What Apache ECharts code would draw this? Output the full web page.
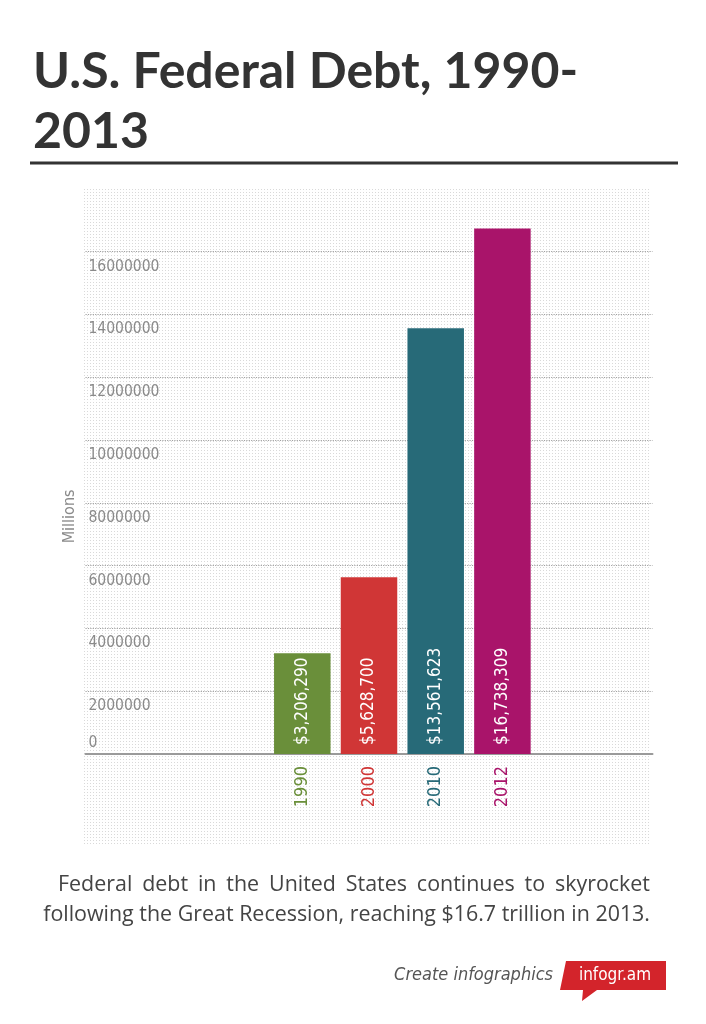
<!DOCTYPE html>
<html><head><meta charset="utf-8">
<script src="https://cdn.jsdelivr.net/npm/echarts@6/dist/echarts.min.js"></script>
<style>html,body{margin:0;padding:0;background:#fff}#c{width:706px;height:1024px}</style>
</head><body><div id="c"></div>
<script>
// ---- data ----
const years = ['1990', '2000', '2010', '2012'];
const debt = [3206290, 5628700, 13561623, 16738309];
const barColors = ['#6a8f3a', '#d03636', '#276a78', '#a9146a'];
const yMin = 0, yMax = 18000000, yStep = 2000000;
const yAxisName = 'Millions';
const titleText = 'U.S. Federal Debt, 1990-\n2013';
const captionLines = [
  'Federal debt in the United States continues to skyrocket',
  'following the Great Recession, reaching $16.7 trillion in 2013.'
];

// ---- slot layout (empty categories around the bars) ----
const slotCount = 17, firstSlot = 6, slotStep = 2;
const categories = [], seriesData = [], catColor = {};
for (let i = 0; i < slotCount; i++) { categories.push(' '.repeat(i)); seriesData.push(null); }
years.forEach((y, k) => {
  const idx = firstSlot + k * slotStep;
  categories[idx] = y;
  catColor[y] = barColors[k];
  seriesData[idx] = { value: debt[k], itemStyle: { color: barColors[k] } };
});

const NARROW = '"DejaVu Sans Condensed","Liberation Sans Narrow",sans-serif';

// dotted background pattern
const pc = document.createElement('canvas'); pc.width = 3; pc.height = 3;
const px = pc.getContext('2d');
px.fillStyle = '#ffffff'; px.fillRect(0, 0, 3, 3);
px.fillStyle = '#d9d9d9'; px.fillRect(0, 0, 1, 1);

// caption layout (justify first line, right-align second)
const mc = document.createElement('canvas').getContext('2d');
const capFamily = '"Open Sans", sans-serif';
mc.font = '20px ' + capFamily;
const line2W = mc.measureText(captionLines[1]).width;
const capSize = 20 * 607 / line2W;
const capFont = capSize.toFixed(2) + 'px ' + capFamily;
mc.font = capFont;
const capEls = [];
(function () {
  const words = captionLines[0].split(' ');
  const widths = words.map(w => mc.measureText(w).width);
  const total = widths.reduce((a, b) => a + b, 0);
  const gap = (592 - total) / (words.length - 1);
  let x = 58;
  words.forEach((w, i) => {
    capEls.push({ type: 'text', silent: true, style: { text: w, x: x, y: 885, font: capFont, fill: '#444', textAlign: 'left', textVerticalAlign: 'middle' } });
    x += widths[i] + gap;
  });
  capEls.push({ type: 'text', silent: true, style: { text: captionLines[1], x: 650, y: 915, font: capFont, fill: '#444', textAlign: 'right', textVerticalAlign: 'middle' } });
})();

const splitColors = [];
for (let v = yMin; v <= yMax; v += yStep) splitColors.push((v === yMin || v === yMax) ? 'rgba(0,0,0,0)' : '#a0a0a0');

const chart = echarts.init(document.getElementById('c'), null, { renderer: 'canvas' });
chart.setOption({
  animation: false,
  backgroundColor: '#fff',
  title: {
    text: titleText, left: 28, top: 37,
    textStyle: { fontFamily: 'Lato', fontWeight: 'bold', fontSize: 50, lineHeight: 60, color: '#333' }
  },
  grid: { left: 85.5, width: 567, top: 188.8, bottom: 270, outerBoundsMode: 'none', containLabel: false },
  xAxis: {
    type: 'category', data: categories,
    axisLine: { show: true, lineStyle: { color: '#9a9a9a', width: 2 } },
    axisTick: { show: false },
    splitLine: { show: false },
    axisLabel: {
      interval: 0, rotate: 90, margin: 12, fontSize: 18, fontFamily: NARROW,
      color: v => catColor[v] || '#888'
    }
  },
  yAxis: {
    type: 'value', min: yMin, max: yMax, interval: yStep,
    name: yAxisName, nameLocation: 'middle', nameRotate: 90, nameGap: 1,
    nameTextStyle: { color: '#8a8a8a', fontSize: 16, fontFamily: NARROW, padding: [0, 90, 0, 0] },
    axisLine: { show: false }, axisTick: { show: false },
    splitLine: { show: true, lineStyle: { color: splitColors, width: 1.2, type: 'dotted' } },
    axisLabel: {
      inside: true, margin: 3, showMaxLabel: false, verticalAlign: 'middle',
      formatter: v => v === 0 ? '{z|0}' : '{n|' + v + '}',
      rich: {
        n: { fontSize: 15.5, fontFamily: NARROW, color: '#8a8a8a', padding: [30, 0, 0, 0] },
        z: { fontSize: 15.5, fontFamily: NARROW, color: '#8a8a8a', padding: [0, 0, 22, 0] }
      }
    }
  },
  series: [{
    type: 'bar', data: seriesData, barWidth: 56.5, silent: true,
    label: {
      show: true, position: 'insideBottom', rotate: 90, align: 'left', verticalAlign: 'middle',
      distance: 9, color: '#fff', fontSize: 17, fontFamily: NARROW,
      formatter: p => '$' + Number(p.value).toLocaleString('en-US')
    }
  }],
  graphic: [
    { type: 'rect', z: -10, silent: true, shape: { x: 83, y: 188, width: 566, height: 657 }, style: { fill: { image: pc, repeat: 'repeat' } } },
    { type: 'line', silent: true, shape: { x1: 30, y1: 163, x2: 678, y2: 163 }, style: { stroke: '#333', lineWidth: 3 } },
    ...capEls,
    { type: 'text', silent: true, style: { text: 'Create infographics', x: 553, y: 975, font: 'italic 18px ' + NARROW, fill: '#555', textAlign: 'right', textVerticalAlign: 'middle' } },
    { type: 'polygon', silent: true, shape: { points: [[566, 961], [666, 961], [666, 990], [597, 990], [582, 1001], [583, 990], [560, 990]] }, style: { fill: '#d3242b' } },
    { type: 'text', silent: true, style: { text: 'infogr.am', x: 615, y: 976, font: '17px ' + NARROW, fill: '#fff', textAlign: 'center', textVerticalAlign: 'middle' } }
  ]
});
</script></body></html>
